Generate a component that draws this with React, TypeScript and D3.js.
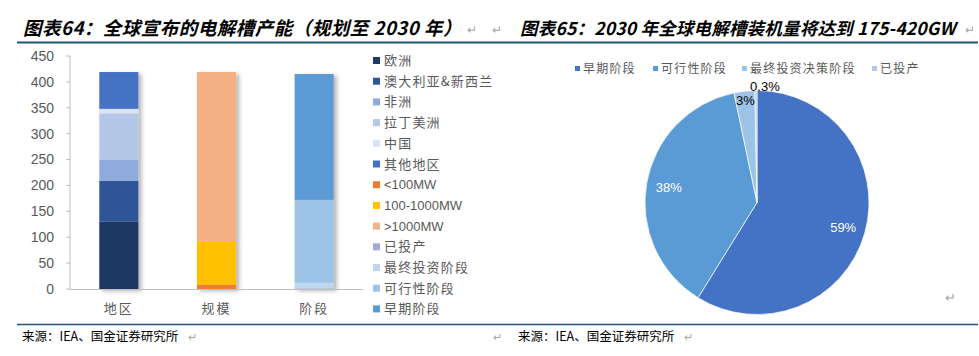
import React, { useEffect } from 'react';
import * as d3 from 'd3';

// ---------- data ----------
const barCategories = ['地区', '规模', '阶段'];
const regionNames = ['欧洲', '澳大利亚&新西兰', '非洲', '拉丁美洲', '中国', '其他地区'];
const regionValues = [130, 79, 41, 89, 9, 71];
const sizeNames = ['<100MW', '100-1000MW', '>1000MW'];
const sizeValues = [8, 85, 326];
const stageNames = ['已投产', '最终投资阶段', '可行性阶段', '早期阶段'];
const stageValues = [1.2, 11, 160, 243];
const yTicks = [0, 50, 100, 150, 200, 250, 300, 350, 400, 450];

const pieNames = ['早期阶段', '可行性阶段', '最终投资决策阶段', '已投产'];
const pieValues = [59, 38, 3, 0.3];
const pieLabels = ['59%', '38%', '3%', '0.3%'];

const leftTitle = '图表64：全球宣布的电解槽产能（规划至 2030 年）';
const rightTitle = '图表65：2030 年全球电解槽装机量将达到 175-420GW';
const sourceText = '来源：IEA、国金证券研究所';

// ---------- styles ----------
const regionColors = ['#1F3864', '#2F5597', '#8FAADC', '#B4C7E7', '#DAE3F3', '#4472C4'];
const sizeColors = ['#ED7D31', '#FFC000', '#F4B183'];
const stageColors = ['#A5AAD9', '#BDD7EE', '#9DC3E6', '#5B9BD5'];
const pieColors = ['#4472C4', '#5B9BD5', '#9DC3E6', '#B4C7E7'];
const pieLabelColors = ['#ffffff', '#ffffff', '#000000', '#000000'];
const pieLabelRadius = [0.8, 0.8, 0.92, 1.04];
const pieLabelDx = [0, 0, 0, 9];

const CJK = '"Noto Sans CJK SC", "Noto Sans", sans-serif';
const LAT = '"Liberation Sans", Arial, sans-serif';
const RULE = '#1B5679';

export default function App() {
  useEffect(() => {
    document.body.style.margin = '0';
  }, []);

  const W = 979;
  const H = 356;

  // bar chart scales
  const x = d3.scaleBand<string>().domain(barCategories).range([70, 363]).paddingInner(0.6).paddingOuter(0.3);
  const y = d3.scaleLinear().domain([0, 450]).range([289, 56]);

  const groups = [
    { cat: barCategories[0], names: regionNames, values: regionValues, colors: regionColors },
    { cat: barCategories[1], names: sizeNames, values: sizeValues, colors: sizeColors },
    { cat: barCategories[2], names: stageNames, values: stageValues, colors: stageColors },
  ];

  const segments: { key: string; x: number; w: number; y0: number; y1: number; color: string }[] = [];
  groups.forEach((g) => {
    const cum = Array.from(d3.cumsum(g.values));
    g.values.forEach((v, i) => {
      const lo = i === 0 ? 0 : cum[i - 1];
      const hi = cum[i];
      segments.push({
        key: g.cat + i,
        x: x(g.cat) as number,
        w: x.bandwidth(),
        y0: y(lo),
        y1: y(hi),
        color: g.colors[i],
      });
    });
  });

  const legendItems = groups.flatMap((g) => g.names.map((n, i) => ({ name: n, color: g.colors[i] })));

  // pie
  const cx = 757;
  const cy = 202.5;
  const r = 112;
  const pie = d3.pie<number>().sort(null).value((d) => d)(pieValues);
  const arc = d3.arc<d3.PieArcDatum<number>>().innerRadius(0).outerRadius(r);

  const pieLegendX = [575, 653, 742, 872];

  return (
    <div style={{ position: 'absolute', left: 0, top: 0 }}>
      <svg width={W} height={H} xmlns="http://www.w3.org/2000/svg" style={{ display: 'block', background: '#fff' }}>
        <defs>
          <filter id="shadow" x="-20%" y="-5%" width="150%" height="115%">
            <feDropShadow dx="3" dy="2" stdDeviation="2" floodColor="#000" floodOpacity="0.3" />
          </filter>
        </defs>

        {/* titles */}
        <text x={23} y={35} fontFamily={CJK} fontSize={18.5} fontWeight="bold" fontStyle="italic" fill="#000" letterSpacing={0.5}>
          {leftTitle}
        </text>
        <text x={467} y={34} fontFamily={CJK} fontSize={12} fill="#A6A6A6">↵</text>
        <text x={492} y={34} fontFamily={CJK} fontSize={12} fill="#A6A6A6">↵</text>
        <text x={520} y={35} fontFamily={CJK} fontSize={17.5} fontWeight="bold" fontStyle="italic" fill="#000" letterSpacing={0.2}>
          {rightTitle}
        </text>
        <text x={965} y={34} fontFamily={CJK} fontSize={12} fill="#A6A6A6">↵</text>
        <line x1={17} x2={978} y1={42.5} y2={42.5} stroke={RULE} strokeWidth={2} />

        {/* y axis */}
        <line x1={70} x2={70} y1={56} y2={289} stroke="#BFBFBF" strokeWidth={1} />
        {yTicks.map((t) => (
          <g key={t}>
            <line x1={66} x2={70} y1={y(t)} y2={y(t)} stroke="#BFBFBF" />
            <text x={54} y={y(t)} dy="0.35em" textAnchor="end" fontFamily={LAT} fontSize={14} fill="#595959">
              {t}
            </text>
          </g>
        ))}

        {/* bars */}
        <g filter="url(#shadow)">
          {segments.map((s) => (
            <rect key={s.key} x={s.x} y={s.y1} width={s.w} height={Math.max(0, s.y0 - s.y1)} fill={s.color} />
          ))}
        </g>
        <line x1={70} x2={363} y1={289.5} y2={289.5} stroke="#BFBFBF" strokeWidth={1} />

        {barCategories.map((c) => (
          <text key={c} x={(x(c) as number) + x.bandwidth() / 2} y={308} dy="0.35em" textAnchor="middle" fontFamily={CJK} fontSize={13} fill="#595959" letterSpacing={2}>
            {c}
          </text>
        ))}

        {/* bar legend */}
        {legendItems.map((it, i) => (
          <g key={it.name} transform={`translate(373, ${60.5 + i * 20.7})`}>
            <rect x={0} y={-3.5} width={7} height={7} fill={it.color} />
            <text x={11} y={0} dy="0.35em" fontFamily={/[A-Za-z0-9<>]/.test(it.name[0]) ? LAT : CJK} fontSize={13} fill="#595959" letterSpacing={/[A-Za-z0-9<>]/.test(it.name[0]) ? 0 : 1.2}>
              {it.name}
            </text>
          </g>
        ))}

        {/* pie legend */}
        {pieNames.map((n, i) => (
          <g key={n} transform={`translate(${pieLegendX[i]}, 69)`}>
            <rect x={0} y={-3} width={5} height={5} fill={pieColors[i]} />
            <text x={8} y={0} dy="0.35em" fontFamily={CJK} fontSize={12} fill="#595959" letterSpacing={1.2}>
              {n}
            </text>
          </g>
        ))}

        {/* pie */}
        <g transform={`translate(${cx}, ${cy})`}>
          {pie.map((p, i) => (
            <path key={i} d={arc(p) as string} fill={pieColors[i]} stroke="#fff" strokeWidth={0.7} />
          ))}
          {pie.map((p, i) => {
            const rr = r * pieLabelRadius[i];
            const a = (p.startAngle + p.endAngle) / 2;
            const lx = Math.sin(a) * rr + pieLabelDx[i];
            const ly = -Math.cos(a) * rr;
            return (
              <text key={'l' + i} x={lx} y={ly} dy="0.35em" textAnchor="middle" fontFamily={LAT} fontSize={13} fill={pieLabelColors[i]}>
                {pieLabels[i]}
              </text>
            );
          })}
        </g>
        <text x={945} y={302} fontFamily={CJK} fontSize={13} fill="#A6A6A6">↵</text>

        {/* footer */}
        <line x1={17} x2={978} y1={324.5} y2={324.5} stroke={RULE} strokeWidth={1.5} />
        <text x={22} y={337} dy="0.35em" fontFamily={CJK} fontSize={12.5} fill="#000">{sourceText}</text>
        <text x={188} y={337} dy="0.35em" fontFamily={CJK} fontSize={11} fill="#A6A6A6">↵</text>
        <text x={493} y={337} dy="0.35em" fontFamily={CJK} fontSize={11} fill="#A6A6A6">↵</text>
        <text x={518} y={337} dy="0.35em" fontFamily={CJK} fontSize={12.5} fill="#000">{sourceText}</text>
        <text x={684} y={337} dy="0.35em" fontFamily={CJK} fontSize={11} fill="#A6A6A6">↵</text>
      </svg>
    </div>
  );
}
